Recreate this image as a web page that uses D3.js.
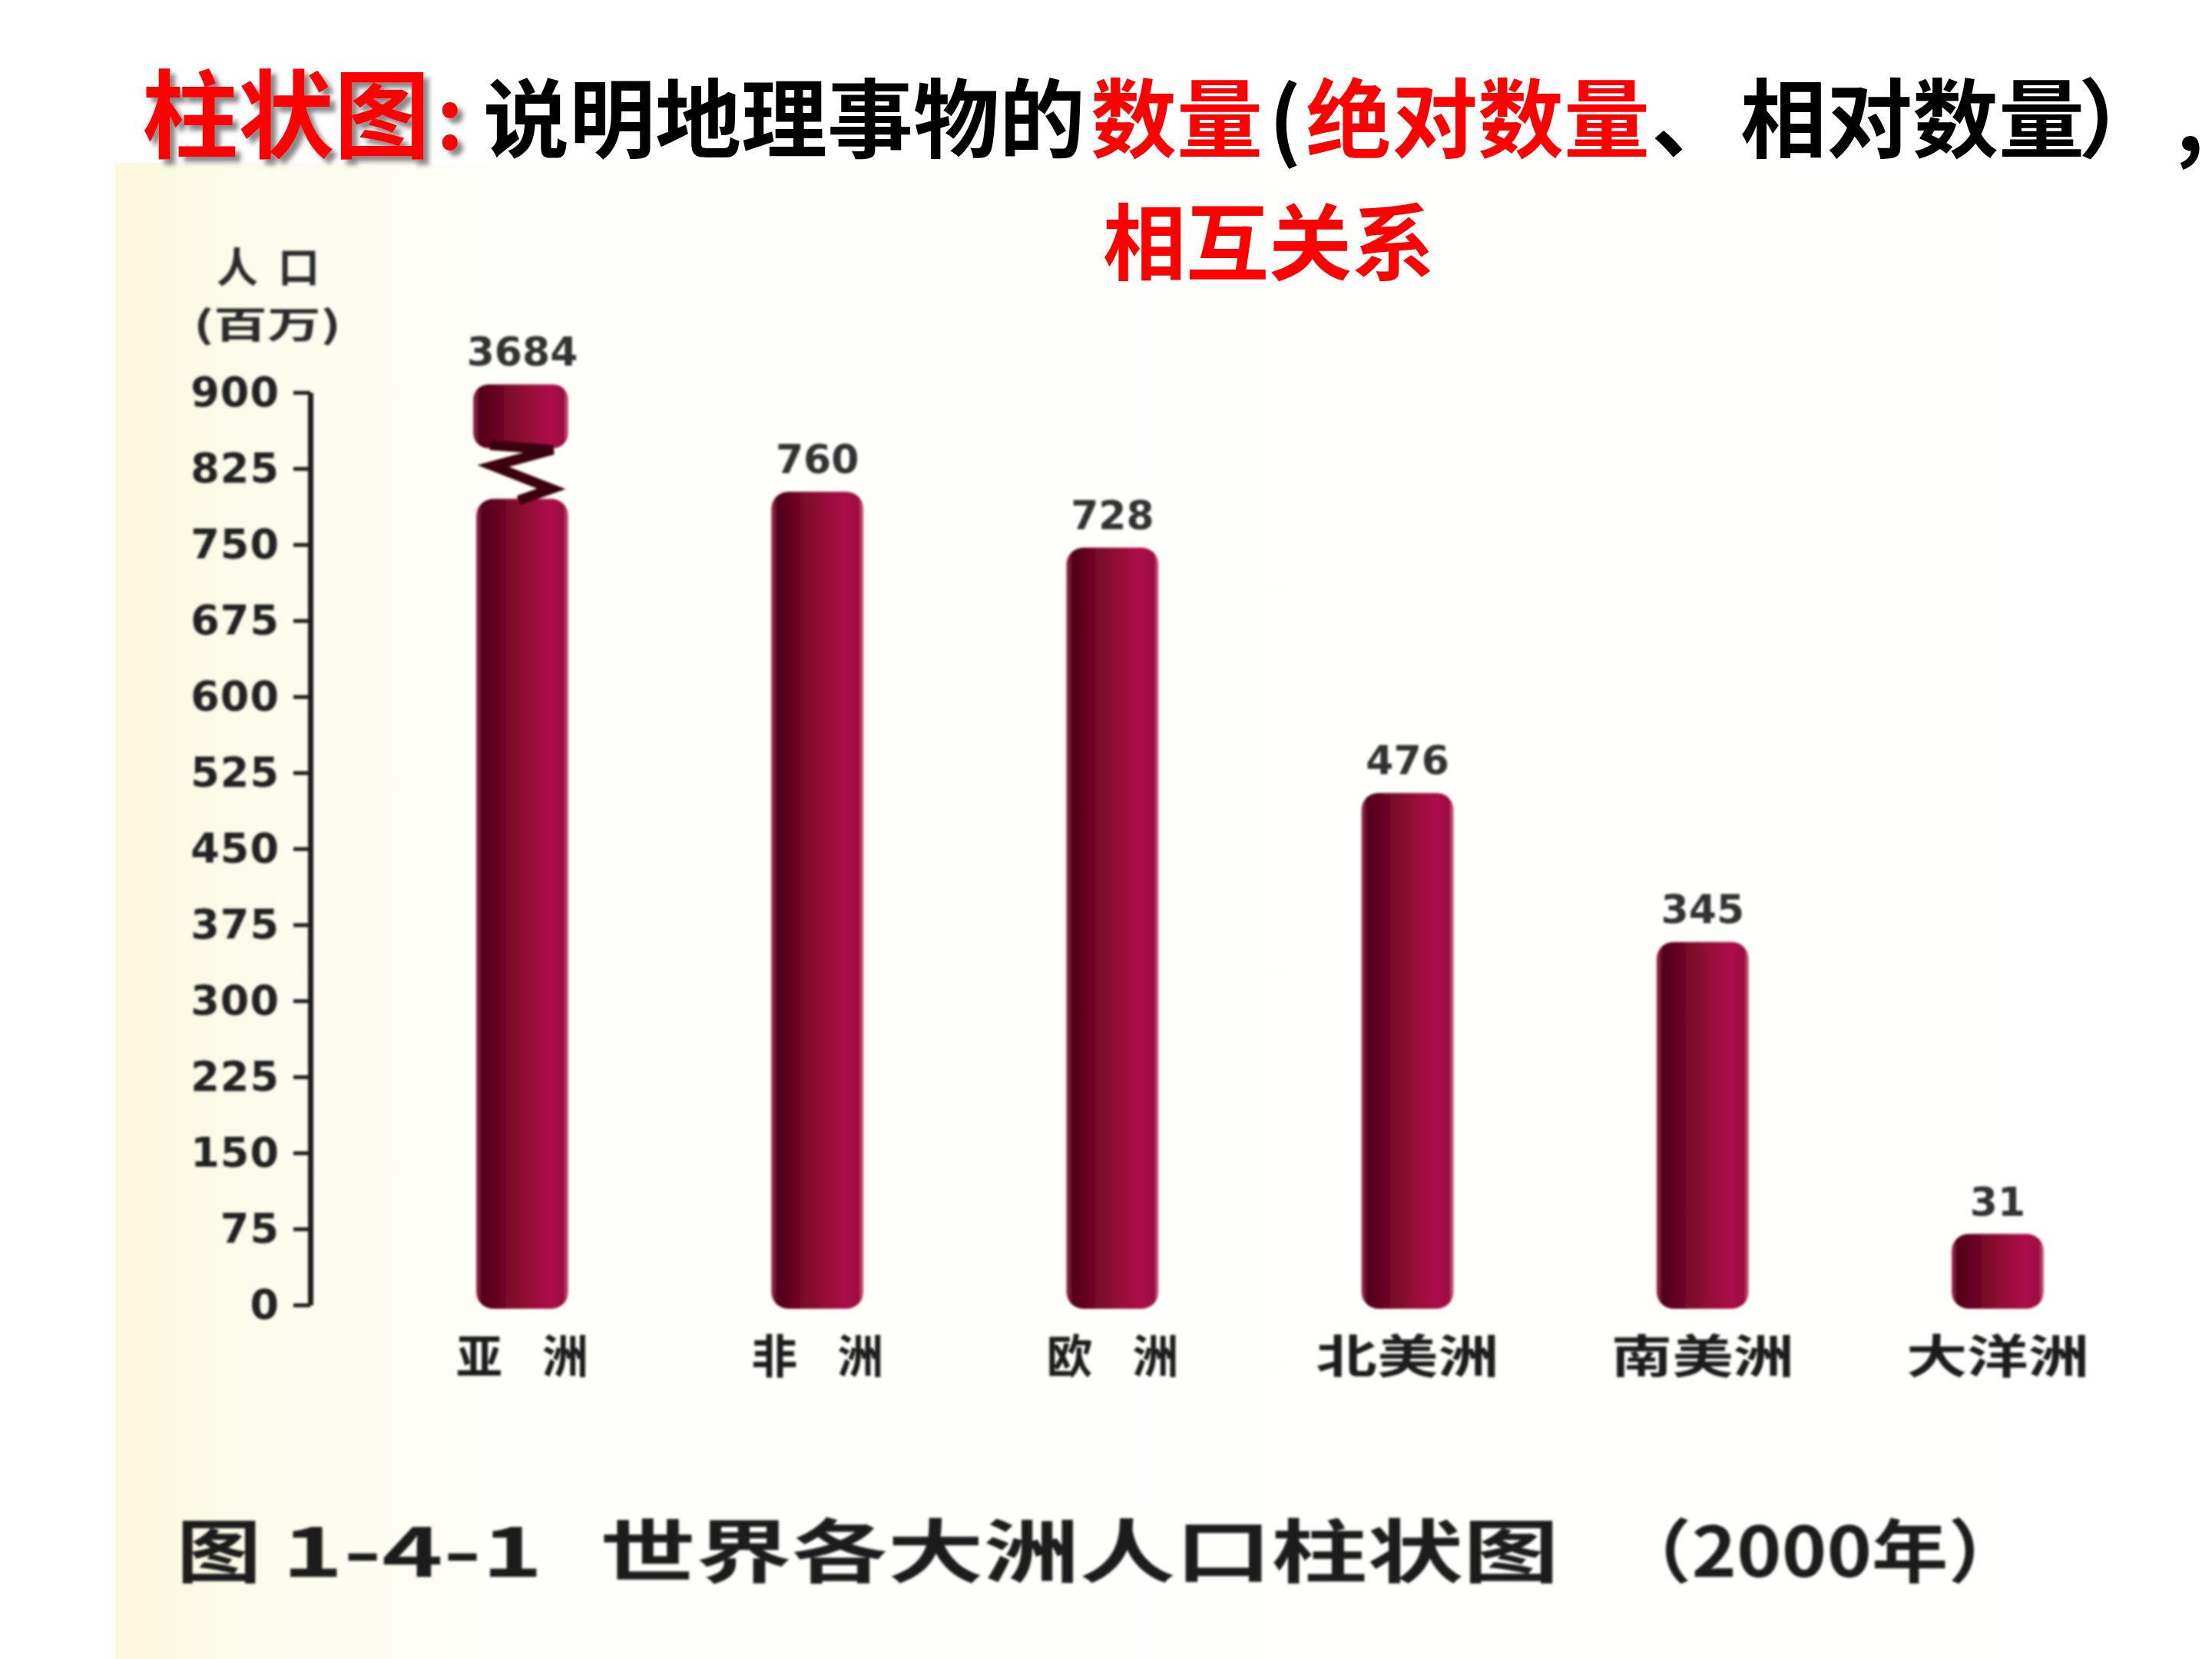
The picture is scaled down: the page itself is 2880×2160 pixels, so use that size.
<!DOCTYPE html>
<html>
<head>
<meta charset="utf-8">
<script src="https://cdn.jsdelivr.net/npm/d3@7"></script>
<style>
  html, body { margin: 0; padding: 0; background: #ffffff; }
</style>
</head>
<body>
<div id="chart"></div>
<script>
// Data
const continents = ["亚洲", "非洲", "欧洲", "北美洲", "南美洲", "大洋洲"];
const populations = [3684, 760, 728, 476, 345, 31];          // printed labels (百万)
const barLevels = [908, 802, 747, 505, 358, 70];             // where each drawn bar reaches on the axis
const asiaBreak = [795, 845];                                 // lower block top / upper block bottom
const yTicks = [0, 75, 150, 225, 300, 375, 450, 525, 600, 675, 750, 825, 900];

const W = 2880, H = 2160;
const cjk = "'Noto Sans CJK SC', 'Noto Sans CJK TC', sans-serif";
const num = "'DejaVu Sans', 'Liberation Sans', sans-serif";

const svg = d3.select("#chart")
  .append("svg")
    .attr("width", W)
    .attr("height", H);

const defs = svg.append("defs");

// scanned-paper tint on the left of the photo
const paper = defs.append("linearGradient").attr("id", "paper");
paper.append("stop").attr("offset", "0").attr("stop-color", "#fbf8dc");
paper.append("stop").attr("offset", "0.06").attr("stop-color", "#fcfbea");
paper.append("stop").attr("offset", "0.18").attr("stop-color", "#fefefa");
paper.append("stop").attr("offset", "1").attr("stop-color", "#ffffff");

// cylinder shading for the bars
const barGrad = defs.append("linearGradient").attr("id", "barGrad");
[["0", "#a03050"], ["0.07", "#50001a"], ["0.3", "#700626"], ["0.55", "#920c36"],
 ["0.8", "#ac1049"], ["0.95", "#9c0e40"], ["1", "#d06a8c"]]
  .forEach(([o, c]) => barGrad.append("stop").attr("offset", o).attr("stop-color", c));

defs.append("filter").attr("id", "soft")
  .append("feGaussianBlur").attr("stdDeviation", 1.6);

const shadow = defs.append("filter").attr("id", "shadow")
  .attr("x", "-10%").attr("y", "-10%").attr("width", "130%").attr("height", "140%");
shadow.append("feDropShadow")
  .attr("dx", 7).attr("dy", 7).attr("stdDeviation", 3)
  .attr("flood-color", "#6b6b6b").attr("flood-opacity", 0.8);

// photo background
svg.append("rect")
  .attr("x", 150).attr("y", 212)
  .attr("width", W - 150).attr("height", H - 212)
  .attr("fill", "url(#paper)");

// ---- heading ----
const head = svg.append("text")
  .attr("font-family", cjk).attr("font-weight", 700)
  .attr("filter", "url(#shadow)");
head.append("tspan")
  .attr("x", 185).attr("y", 196)
  .attr("font-size", 125).attr("fill", "#ff0000")
  .text("柱状图");
head.append("tspan")
  .attr("x", 568).attr("y", 194)
  .attr("font-size", 110).attr("fill", "#ff0000")
  .text(":");

// first explanation line, pieces placed by their left edges
const headPieces = [
  ["说明地理事物的", "#000000", 629],
  ["数量", "#ff0000", 1420],
  ["(", "#000000", 1652],
  ["绝对数量", "#ff0000", 1700],
  ["、", "#000000", 2150],
  ["相对数量", "#000000", 2266],
  ["）", "#000000", 2706],
  [",", "#000000", 2833]
];
const sub = svg.append("text")
  .attr("font-family", cjk).attr("font-weight", 700)
  .attr("font-size", 112);
headPieces.forEach(([t, c, px]) => {
  sub.append("tspan")
    .attr("x", px).attr("y", 197)
    .attr("fill", c)
    .text(t);
});

svg.append("text")
  .attr("x", 1652).attr("y", 356)
  .attr("text-anchor", "middle")
  .attr("font-family", cjk).attr("font-weight", 700)
  .attr("font-size", 108).attr("fill", "#ff0000")
  .text("相互关系");

// ---- chart ----
const y = d3.scaleLinear()
  .domain([0, 900])
  .range([1699, 511]);

const x = d3.scalePoint()
  .domain(continents)
  .range([680, 2601]);

const barW = 120;
const chart = svg.append("g").attr("filter", "url(#soft)");

// Y axis
const axisX = 404;
chart.append("g")
  .attr("transform", `translate(${axisX},0)`)
  .call(d3.axisLeft(y).tickValues(yTicks).tickSize(22).tickPadding(18).tickSizeOuter(0))
  .call(g => g.select(".domain").attr("stroke", "#1a1a1a").attr("stroke-width", 7))
  .call(g => g.selectAll(".tick line").attr("stroke", "#1a1a1a").attr("stroke-width", 5))
  .call(g => g.selectAll(".tick text")
      .attr("fill", "#222")
      .attr("font-family", num)
      .attr("font-weight", 700)
      .attr("font-size", 54)
      .attr("letter-spacing", 1));

// axis title
chart.append("text")
  .attr("x", 349).attr("y", 368)
  .attr("text-anchor", "middle")
  .attr("font-family", cjk).attr("font-weight", 700)
  .attr("font-size", 54).attr("fill", "#2a2a2a")
  .attr("textLength", 134).attr("lengthAdjust", "spacing")
  .text("人口");
chart.append("text")
  .attr("x", 348).attr("y", 440)
  .attr("text-anchor", "middle")
  .attr("font-family", cjk).attr("font-weight", 700)
  .attr("font-size", 48).attr("fill", "#2a2a2a")
  .attr("textLength", 192).attr("lengthAdjust", "spacingAndGlyphs")
  .text("(百万)");

// bars
continents.forEach((c, i) => {
  const cx = x(c);
  const base = y(0) + 5;
  if (i === 0) {
    // broken bar for Asia
    const lowTop = y(asiaBreak[0]);
    const upBottom = y(asiaBreak[1]);
    chart.append("rect")
      .attr("x", cx - barW / 2).attr("y", lowTop)
      .attr("width", barW).attr("height", base - lowTop)
      .attr("rx", 22).attr("fill", "url(#barGrad)");
    chart.append("rect")
      .attr("x", cx - barW / 2 - 4).attr("y", y(barLevels[i]))
      .attr("width", barW + 4).attr("height", upBottom - y(barLevels[i]))
      .attr("rx", 20).attr("fill", "url(#barGrad)");
    const g = lowTop - upBottom;
    const line = d3.line();
    chart.append("path")
      .attr("d", line([
        [cx - barW / 2 + 18, upBottom - 4],
        [cx + barW / 2 - 20, upBottom + 2],
        [cx - barW / 2 + 22, upBottom + g * 0.35],
        [cx + barW / 2 - 22, upBottom + g * 0.8],
        [cx - 5, lowTop + 2]
      ]))
      .attr("fill", "none")
      .attr("stroke", "#3a000f")
      .attr("stroke-width", 13)
      .attr("stroke-linejoin", "miter");
  } else {
    const top = y(barLevels[i]);
    chart.append("rect")
      .attr("x", cx - barW / 2).attr("y", top)
      .attr("width", barW).attr("height", base - top)
      .attr("rx", 22).attr("fill", "url(#barGrad)");
  }

  // printed value
  chart.append("text")
    .attr("x", cx).attr("y", y(barLevels[i]) - 24)
    .attr("text-anchor", "middle")
    .attr("font-family", num).attr("font-weight", 700)
    .attr("font-size", 52).attr("fill", "#333")
    .text(populations[i]);

  // category label
  chart.append("text")
    .attr("x", cx).attr("y", 1788)
    .attr("text-anchor", "middle")
    .attr("font-family", cjk).attr("font-weight", 700)
    .attr("font-size", 60).attr("fill", "#1e1e1e")
    .attr("textLength", c.length === 2 ? 172 : 238)
    .attr("lengthAdjust", c.length === 2 ? "spacing" : "spacingAndGlyphs")
    .text(c);
});

// figure caption, in pieces with their spans
const capPieces = [
  ["图", 230, 110],
  ["1-4-1", 367, 340],
  ["世界各大洲人口柱状图", 781, 1249],
  ["（2000年）", 2103, 533]
];
capPieces.forEach(([t, px, len]) => {
  chart.append("text")
    .attr("x", px).attr("y", 2053)
    .attr("font-family", cjk).attr("font-weight", 700)
    .attr("font-size", 90).attr("fill", "#1a1a1a")
    .attr("textLength", len).attr("lengthAdjust", "spacingAndGlyphs")
    .text(t);
});
</script>
</body>
</html>
